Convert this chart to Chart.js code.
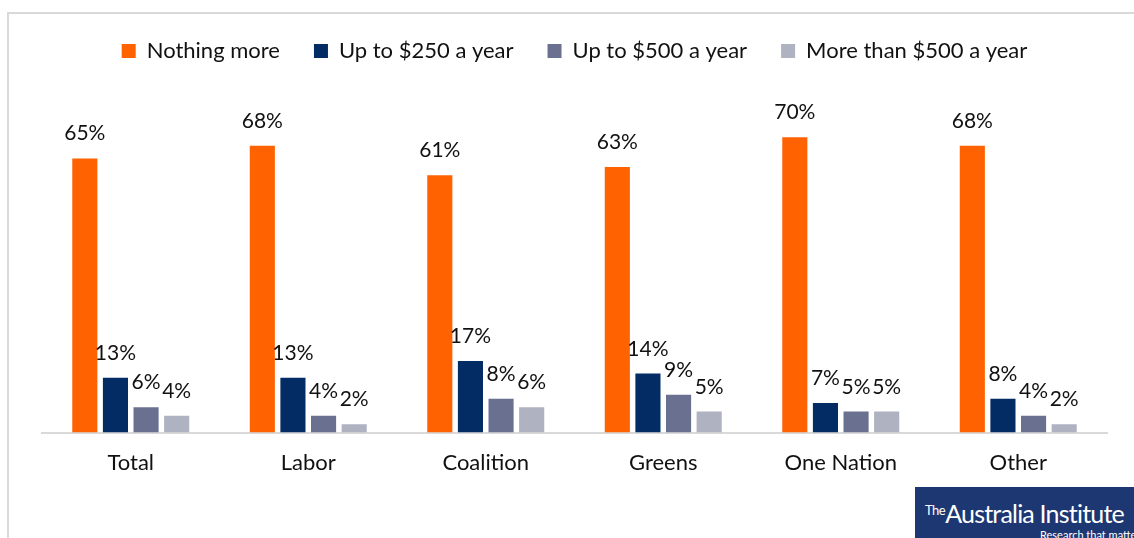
<!DOCTYPE html>
<html>
<head>
<meta charset="utf-8">
<script src="https://cdn.jsdelivr.net/npm/chart.js@4"></script>
<style>
  html, body { margin: 0; padding: 0; background: #fff; }
  #wrap { position: relative; width: 1134px; height: 538px; overflow: hidden; }
  #frame { position: absolute; left: 7px; top: 12px; width: 1140px; height: 540px;
           border-left: 2px solid #d9d9d9; border-top: 2px solid #d9d9d9; }
  canvas { position: absolute; left: 0; top: 0; }
  #logo { position: absolute; left: 915px; top: 487px; width: 230px; height: 60px;
          background: #1d3773; color: #fff; font-family: 'Lato', sans-serif; }
  #logo .name { position: absolute; left: 10px; top: 11px; font-size: 25px; letter-spacing: -0.8px; white-space: nowrap; }
  #logo .the { font-size: 13px; vertical-align: 8px; letter-spacing: -0.5px; }
  #logo .tag { position: absolute; left: 125px; top: 41px; font-size: 11px; white-space: nowrap; }
</style>
</head>
<body>
<div id="wrap">
  <div id="frame"></div>
  <canvas id="chart-main" width="1134" height="538"></canvas>
  <div id="logo"><div class="name"><span class="the">The</span>Australia Institute</div><div class="tag">Research that matters</div></div>
</div>
<script>
const CATEGORIES = ['Total', 'Labor', 'Coalition', 'Greens', 'One Nation', 'Other'];
const SERIES = ['Nothing more', 'Up to $250 a year', 'Up to $500 a year', 'More than $500 a year'];
const NOTHING_MORE = [65, 68, 61, 63, 70, 68];
const UP_TO_250    = [13, 13, 17, 14, 7, 8];
const UP_TO_500    = [6, 4, 8, 9, 5, 4];
const MORE_THAN_500 = [4, 2, 6, 5, 5, 2];
const COLORS = ['#ff6200', '#022c63', '#6a7190', '#aeb2c1'];

const FONT = "'Lato', sans-serif";

// percent labels above each bar
const barLabels = {
  id: 'barLabels',
  afterDatasetsDraw(chart) {
    const ctx = chart.ctx;
    ctx.save();
    ctx.font = '21px ' + FONT;
    ctx.fillStyle = '#111';
    ctx.textAlign = 'center';
    ctx.textBaseline = 'alphabetic';
    chart.data.datasets.forEach((ds, i) => {
      chart.getDatasetMeta(i).data.forEach((bar, j) => {
        ctx.fillText(ds.data[j] + '%', bar.x, bar.y - 18);
      });
    });
    ctx.restore();
  }
};

Chart.defaults.font.family = FONT;
Chart.defaults.color = '#111';

new Chart(document.getElementById('chart-main'), {
  type: 'bar',
  data: {
    labels: CATEGORIES,
    datasets: [NOTHING_MORE, UP_TO_250, UP_TO_500, MORE_THAN_500].map((d, i) => ({
      label: SERIES[i],
      data: d,
      backgroundColor: COLORS[i],
      categoryPercentage: 0.69,
      barPercentage: 0.82
    }))
  },
  options: {
    responsive: false,
    animation: false,
    layout: { padding: { left: 42, right: 27, top: 6, bottom: 53 } },
    plugins: {
      legend: {
        position: 'top',
        labels: { font: { size: 22 }, boxWidth: 14, boxHeight: 14, padding: 34, color: '#111' }
      },
      tooltip: { enabled: false }
    },
    scales: {
      x: {
        grid: { display: false },
        border: { color: '#d9d9d9', width: 2 },
        ticks: { font: { size: 22 }, color: '#111', padding: 9 }
      },
      y: {
        display: false,
        min: 0, max: 85.5
      }
    }
  },
  plugins: [barLabels]
});
</script>
</body>
</html>
